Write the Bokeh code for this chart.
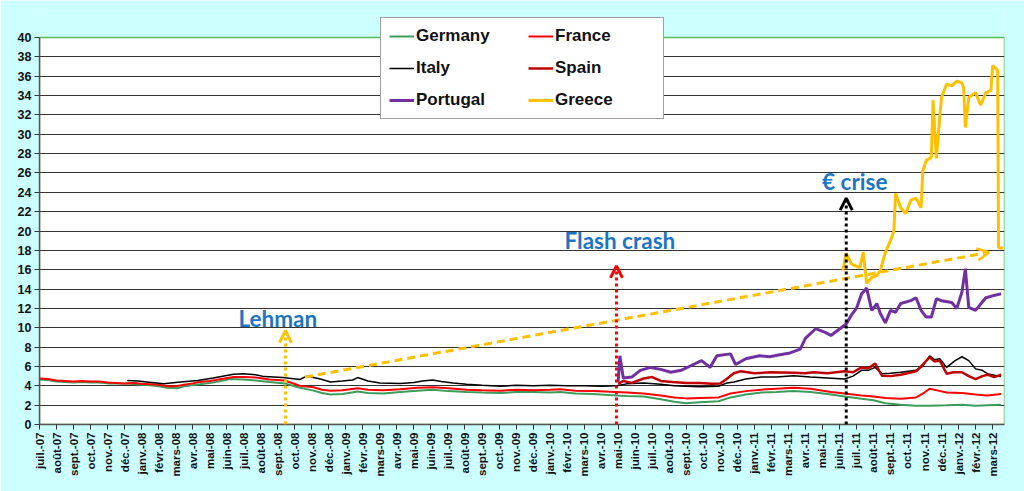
import numpy as np
from bokeh.plotting import figure
from bokeh.models import FixedTicker, Legend, LegendItem, Arrow, OpenHead, Label
from bokeh.embed import file_html
from bokeh.resources import INLINE

# x axis: one tick per month, juil.-07 .. mars-12 (x = months since 1 July 2007)
month_names = ["juil.", "août", "sept.", "oct.", "nov.", "déc.",
               "janv.", "févr.", "mars", "avr.", "mai", "juin"]
n_months = 57
tick_labels = {i: f"{month_names[i % 12]}-{7 + (i + 6) // 12:02d}" for i in range(n_months)}
y_ticks = list(range(0, 41, 2))
x_end = 56.7

# 10y government bond yields (%)
germany_t = [0, 0.5, 1, 1.5, 2, 2.5, 3, 3.5, 4, 4.5, 5.3, 6, 6.5, 7, 7.5, 8.1, 8.5, 9.4, 10, 10.5,
             11.2, 12, 12.7, 13.5, 14.4, 15.3, 16.1, 16.6, 17.1, 17.8, 18.7, 19.3, 20.2, 21.2, 22.2,
             23.1, 24.0, 25.1, 26.0, 27.1, 28.0, 29.0, 30.0, 30.6, 31.5, 32.5, 33.9, 34.5, 35.5,
             36.5, 37.3, 38.0, 38.8, 39.9, 40.6, 41.5, 42.4, 43.3, 44.3, 45.3, 46.3, 47.3, 48.3,
             49.0, 49.7, 50.6, 51.5, 52.3, 53.3, 54.2, 55.0, 55.7, 56.5]
germany_v = [4.65, 4.6, 4.45, 4.4, 4.35, 4.4, 4.35, 4.35, 4.25, 4.25, 4.2, 4.1, 4.05, 3.95, 3.8, 3.75,
             3.95, 4.15, 4.3, 4.45, 4.7, 4.65, 4.55, 4.4, 4.25, 3.8, 3.5, 3.25, 3.1, 3.15, 3.4, 3.25,
             3.2, 3.35, 3.5, 3.6, 3.45, 3.35, 3.3, 3.25, 3.35, 3.35, 3.3, 3.35, 3.2, 3.15, 3.0, 2.95,
             2.9, 2.6, 2.35, 2.2, 2.3, 2.4, 2.8, 3.1, 3.3, 3.35, 3.45, 3.35, 3.15, 2.9, 2.65, 2.5,
             2.2, 2.05, 1.95, 1.95, 2.0, 2.05, 1.95, 2.0, 2.05]

france_t = [0, 0.5, 1, 1.5, 2, 2.5, 3, 3.5, 4, 4.5, 5, 5.5, 6, 6.5, 7, 7.5, 8, 8.5, 9, 9.4, 10, 10.5,
            11.4, 12, 12.7, 13.5, 14.4, 15.3, 16.1, 16.6, 17.1, 17.8, 18.7, 19.3, 20.2, 21.2, 22.2,
            23.1, 24.0, 25.1, 26.0, 27.1, 28.0, 29.0, 30.0, 30.6, 31.5, 32.5, 33.9, 34.5, 35.5, 36.5,
            37.3, 38.0, 38.8, 39.9, 40.6, 41.5, 42.4, 43.3, 44.3, 45.3, 46.5, 47.3, 48.3, 49.0, 49.7,
            50.6, 51.5, 52.0, 52.3, 52.8, 53.3, 54.2, 55.0, 55.7, 56.5]
france_v = [4.75, 4.7, 4.55, 4.5, 4.45, 4.5, 4.45, 4.45, 4.35, 4.3, 4.25, 4.3, 4.2, 4.15, 4.1, 3.95,
            3.95, 4.1, 4.25, 4.4, 4.5, 4.65, 4.9, 4.9, 4.85, 4.65, 4.55, 4.0, 3.85, 3.6, 3.5, 3.55,
            3.75, 3.6, 3.55, 3.65, 3.8, 3.85, 3.75, 3.6, 3.55, 3.5, 3.6, 3.55, 3.6, 3.65, 3.5, 3.45,
            3.35, 3.3, 3.2, 3.0, 2.8, 2.7, 2.75, 2.8, 3.2, 3.45, 3.6, 3.7, 3.8, 3.7, 3.35, 3.2, 3.0,
            2.9, 2.75, 2.65, 2.8, 3.3, 3.7, 3.5, 3.3, 3.25, 3.1, 3.0, 3.15]

italy_t = [5.15, 5.8, 6.3, 7.3, 8.3, 9.3, 10.2, 11.4, 12.0, 12.7, 13.2, 14.3, 15.3, 15.7, 16.1, 16.5,
           17.1, 17.8, 18.4, 18.7, 19.3, 20.0, 21.2, 22.0, 22.5, 23.1, 23.6, 24.3, 25.1, 26.0, 27.1,
           28.0, 29.0, 30.0, 31.0, 32.0, 33.0, 33.9, 34.5, 35.5, 36.5, 37.3, 38.0, 38.8, 39.9, 40.4,
           40.8, 41.5, 42.4, 43.3, 44.3, 45.3, 46.3, 47.3, 47.8, 48.3, 48.7, 49.1, 49.5, 50.0, 50.6,
           51.5, 51.9, 52.3, 52.6, 52.9, 53.3, 53.8, 54.2, 54.6, 55.0, 55.4, 55.7, 56.1, 56.5]
italy_v = [4.55, 4.5, 4.4, 4.2, 4.4, 4.55, 4.8, 5.2, 5.25, 5.15, 4.95, 4.85, 4.65, 5.0, 4.85, 4.7,
           4.4, 4.5, 4.6, 4.85, 4.5, 4.3, 4.25, 4.35, 4.5, 4.6, 4.45, 4.3, 4.15, 4.05, 3.95, 4.05,
           4.0, 4.05, 4.0, 4.0, 3.95, 4.0, 4.2, 4.3, 4.15, 4.0, 3.95, 3.9, 3.95, 4.3, 4.4, 4.7, 4.9,
           4.9, 5.05, 4.9, 4.8, 4.7, 5.0, 5.6, 5.6, 5.9, 5.25, 5.3, 5.4, 5.6, 6.0, 7.1, 6.7, 6.8,
           5.9, 6.6, 7.0, 6.6, 5.75, 5.6, 5.25, 5.1, 4.95]

spain_t = [34.0, 34.3, 34.8, 35.5, 36.0, 36.5, 37.2, 38.0, 38.8, 39.5, 40.0, 40.3, 40.8, 41.2, 42.0,
           43.0, 44.3, 45.0, 45.5, 46.3, 46.8, 47.3, 47.8, 48.3, 48.7, 49.1, 49.5, 50.0, 50.6, 51.0,
           51.5, 51.9, 52.3, 52.6, 52.9, 53.3, 53.7, 54.2, 54.6, 55.0, 55.4, 55.7, 56.1, 56.5]
spain_v = [4.2, 4.5, 4.3, 4.75, 4.9, 4.5, 4.4, 4.3, 4.3, 4.2, 4.25, 4.6, 5.3, 5.5, 5.3, 5.4, 5.35,
           5.3, 5.4, 5.3, 5.4, 5.5, 5.4, 5.9, 5.8, 6.3, 5.05, 5.0, 5.15, 5.3, 5.5, 6.2, 6.95, 6.5,
           6.6, 5.25, 5.4, 5.4, 5.0, 4.7, 5.0, 5.15, 4.9, 5.15]

portugal_t = [34.0, 34.1, 34.3, 34.8, 35.3, 35.9, 36.5, 37.1, 37.7, 38.3, 38.9, 39.4, 39.8, 40.6,
              40.9, 41.5, 42.3, 42.9, 43.5, 44.1, 44.7, 45.0, 45.6, 46.2, 46.5, 47.1, 47.4, 47.7,
              48.0, 48.3, 48.6, 48.9, 49.2, 49.4, 49.7, 50.0, 50.3, 50.6, 51.2, 51.5, 51.8, 52.1,
              52.4, 52.7, 53.0, 53.6, 53.9, 54.2, 54.4, 54.6, 55.0, 55.6, 56.0, 56.5]
portugal_v = [4.4, 7.1, 4.8, 4.9, 5.6, 5.9, 5.7, 5.4, 5.6, 6.1, 6.6, 5.9, 7.1, 7.3, 6.2, 6.8, 7.1,
              7.0, 7.2, 7.4, 7.8, 8.9, 9.9, 9.5, 9.2, 10.0, 10.4, 11.3, 12.0, 13.5, 14.1, 11.8, 12.5,
              11.5, 10.5, 11.8, 11.6, 12.5, 12.8, 13.1, 11.8, 11.1, 11.1, 13.0, 12.8, 12.6, 12.0,
              13.7, 16.1, 12.1, 11.8, 13.1, 13.3, 13.5]

greece_t = [47.2, 47.4, 47.7, 48.2, 48.4, 48.6, 48.9, 49.2, 49.4, 49.7, 50.0, 50.2, 50.3, 50.6,
            50.9, 51.2, 51.5, 51.8, 51.9, 52.1, 52.4, 52.5, 52.7, 52.9, 53.0, 53.3, 53.6, 53.9,
            54.2, 54.3, 54.4, 54.6, 55.0, 55.3, 55.6, 55.9, 56.0, 56.3, 56.35, 56.6]
greece_v = [15.9, 17.7, 16.6, 16.2, 17.8, 14.6, 15.2, 15.4, 15.9, 17.8, 19.0, 20.0, 23.9, 22.4,
            21.8, 23.2, 23.4, 22.4, 26.2, 27.3, 27.6, 33.5, 27.5, 31.9, 33.8, 35.2, 35.0, 35.5,
            35.3, 34.8, 30.7, 33.8, 34.3, 33.0, 34.3, 34.5, 37.1, 36.6, 18.3, 18.2]

# events: month position, top of arrow, label position
events = ["Lehman", "Flash crash", "€ crise"]
event_t = [14.45, 33.9, 47.4]
event_top = [9.7, 16.4, 23.4]
event_color = ["#FFC000", "#FF0000", "#000000"]
label_t = [14.0, 34.1, 47.9]
label_v = [11.0, 19.0, 25.1]
trend_start = (15.6, 4.9)
trend_end = (55.8, 17.8)

# frame extends above the 40 line so the legend box can sit across the top edge
px_per_unit = 387 / 40
y_top = 40 + 27 / px_per_unit

p = figure(width=1024, height=491, x_range=(0, x_end), y_range=(0, y_top),
           output_backend="svg", toolbar_location=None,
           min_border_left=39, min_border_right=20, min_border_top=10, min_border_bottom=67,
           background_fill_color="#CCFFFF", border_fill_color="#CCFFFF",
           outline_line_color=None)

# white plotting area with green edge
p.quad(left=0, right=x_end, bottom=0, top=y_ticks[-1], fill_color="white",
       line_color="#5CB85C", line_width=1.5, level="image")

p.xaxis.ticker = FixedTicker(ticks=list(range(n_months)))
p.xaxis.major_label_overrides = tick_labels
p.xaxis.major_label_orientation = np.pi / 2
p.yaxis.ticker = FixedTicker(ticks=y_ticks)
p.yaxis.bounds = (0, 40)
for ax in (p.xaxis, p.yaxis):
    ax.minor_tick_line_color = None
    ax.major_tick_in = 0
    ax.major_tick_out = 5
    ax.major_tick_line_color = "#333333"
    ax.axis_line_color = "#555555"
    ax.axis_line_width = 1.5
    ax.major_label_text_font = "Liberation Sans"
    ax.major_label_text_font_style = "bold"
    ax.major_label_text_color = "#111111"
    ax.major_label_standoff = 3
p.xaxis.major_label_text_font_size = "11.5px"
p.yaxis.major_label_text_font_size = "12.5px"
p.xgrid.visible = False
p.ygrid.ticker = FixedTicker(ticks=y_ticks[1:-1])
p.ygrid.grid_line_color = "#333333"
p.ygrid.grid_line_width = 1

r_de = p.line(germany_t, germany_v, line_color="#3C9C5C", line_width=2)
r_fr = p.line(france_t, france_v, line_color="#FF0000", line_width=2)
r_it = p.line(italy_t, italy_v, line_color="#000000", line_width=1.5)
r_es = p.line(spain_t, spain_v, line_color="#C00000", line_width=2.5)
r_pt = p.line(portugal_t, portugal_v, line_color="#7030A0", line_width=3)
r_gr = p.line(greece_t, greece_v, line_color="#FFC000", line_width=3)

# trend arrow (Greece)
p.add_layout(Arrow(end=OpenHead(size=12, line_color="#FFC000", line_width=2.5),
                   x_start=trend_start[0], y_start=trend_start[1],
                   x_end=trend_end[0], y_end=trend_end[1],
                   line_color="#FFC000", line_width=3, line_dash="8 5"))

for name, t, top, col, lt, lv in zip(events, event_t, event_top, event_color, label_t, label_v):
    p.add_layout(Arrow(end=OpenHead(size=12, line_color=col, line_width=3),
                       x_start=t, y_start=0, x_end=t, y_end=top,
                       line_color=col, line_width=3, line_dash="3 3"))
    p.add_layout(Label(x=lt, y=lv, text=name, text_align="center", text_baseline="middle",
                       text_font="Lato", text_font_style="bold", text_font_size="22.5px",
                       text_color="#1C75C4"))

legend = Legend(items=[LegendItem(label="Germany", renderers=[r_de]),
                       LegendItem(label="France", renderers=[r_fr]),
                       LegendItem(label="Italy", renderers=[r_it]),
                       LegendItem(label="Spain", renderers=[r_es]),
                       LegendItem(label="Portugal", renderers=[r_pt]),
                       LegendItem(label="Greece", renderers=[r_gr])],
                orientation="horizontal", ncols=2, location=(341, 305),
                padding=8, spacing=12, glyph_width=25, glyph_height=20,
                label_height=20, label_width=100, label_standoff=2,
                label_text_font="Liberation Sans", label_text_font_style="bold",
                label_text_font_size="17px", label_text_color="#111111",
                border_line_color="#404040", border_line_width=1,
                background_fill_color="white", background_fill_alpha=1)
p.add_layout(legend)

open("out.html", "w").write(file_html(p, INLINE))
